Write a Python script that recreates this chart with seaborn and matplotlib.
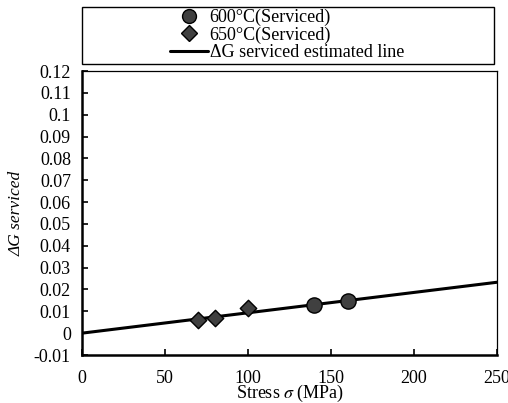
import matplotlib
matplotlib.use("Agg")
import matplotlib.pyplot as plt
from matplotlib.lines import Line2D
from matplotlib.patches import Rectangle
import seaborn as sns
import pandas as pd

# Measured points
stress_600 = [140, 160]
dg_600 = [0.0129, 0.0145]
stress_650 = [70, 80, 100]
dg_650 = [0.0058, 0.0068, 0.0114]

# Estimated line endpoints
line_stress = [0, 250]
line_dg = [0.0, 0.0233]

labels = ["600°C(Serviced)", "650°C(Serviced)", "ΔG serviced estimated line"]
yticks = [-0.01, 0.0, 0.01, 0.02, 0.03, 0.04, 0.05, 0.06, 0.07, 0.08, 0.09, 0.1, 0.11, 0.12]
ytick_labels = ["-0.01", "0", "0.01", "0.02", "0.03", "0.04", "0.05", "0.06",
                "0.07", "0.08", "0.09", "0.1", "0.11", "0.12"]
xticks = [0, 50, 100, 150, 200, 250]

sns.set_style("ticks")
plt.rcParams["font.family"] = ["Liberation Serif", "DejaVu Serif"]
plt.rcParams["mathtext.fontset"] = "stix"

fig = plt.figure(figsize=(5.08, 4.03), dpi=100)
W, H = 508, 403
ax = fig.add_axes([82 / W, 1 - 355 / H, (497 - 82) / W, (355 - 71) / H])

df_line = pd.DataFrame({"s": line_stress, "g": line_dg})
sns.lineplot(data=df_line, x="s", y="g", ax=ax, color="black", linewidth=2.2, zorder=2)

df600 = pd.DataFrame({"s": stress_600, "g": dg_600})
df650 = pd.DataFrame({"s": stress_650, "g": dg_650})
sns.scatterplot(data=df600, x="s", y="g", ax=ax, marker="o", s=120,
                color="#404040", edgecolor="black", linewidth=1.0, zorder=3)
sns.scatterplot(data=df650, x="s", y="g", ax=ax, marker="D", s=70,
                color="#404040", edgecolor="black", linewidth=1.0, zorder=3)

ax.set_xlim(0, 250)
ax.set_ylim(-0.01, 0.12)
ax.set_xticks(xticks)
ax.set_xticklabels([str(v) for v in xticks])
ax.set_yticks(yticks)
ax.set_yticklabels(ytick_labels)
ax.tick_params(direction="in", length=4.5, width=1.2, color="black",
               labelcolor="black", labelsize=13)
ax.tick_params(axis="y", pad=8)
ax.tick_params(axis="x", pad=11)

for side in ["left", "bottom"]:
    ax.spines[side].set_linewidth(1.8)
    ax.spines[side].set_color("black")
for side in ["top", "right"]:
    ax.spines[side].set_visible(True)
    ax.spines[side].set_linewidth(0.9)
    ax.spines[side].set_color("black")

ax.set_xlabel(r"Stress $\sigma$ (MPa)", fontsize=13, color="black")
ax.xaxis.set_label_coords((290 - 82) / (497 - 82), -(393 - 355) / (355 - 71))
ax.xaxis.label.set_va("center")
ax.set_ylabel("ΔG serviced", fontsize=12.5, style="italic", color="black")
ax.yaxis.set_label_coords(-(82 - 17) / (497 - 82), (355 - 213) / (355 - 71))
ax.yaxis.label.set_va("center")

# Legend box above the axes
fig.patches.append(Rectangle((82 / W, 1 - 64 / H), (494 - 82) / W, (64 - 7) / H,
                             transform=fig.transFigure, fill=False,
                             edgecolor="black", linewidth=1.0))
handles = [
    Line2D([], [], marker="o", linestyle="none", markersize=10,
           markerfacecolor="#404040", markeredgecolor="black"),
    Line2D([], [], marker="D", linestyle="none", markersize=8,
           markerfacecolor="#404040", markeredgecolor="black"),
    Line2D([], [], color="black", linewidth=2.2),
]
fig.legend(handles, labels, loc="center", bbox_to_anchor=(287 / W, 1 - 35 / H),
           frameon=False, fontsize=13, labelspacing=0.03, handlelength=2.1,
           handletextpad=0.1, borderpad=0, labelcolor="black")

fig.savefig("out.png", dpi=100)
